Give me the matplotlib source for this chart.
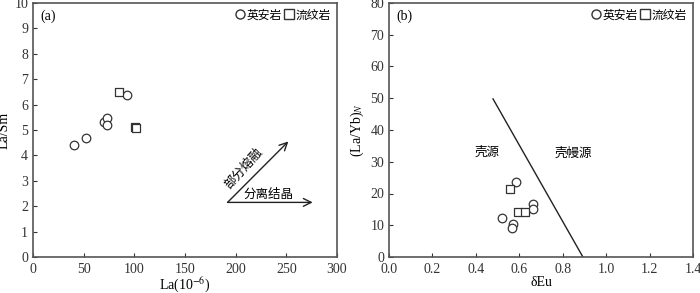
import matplotlib.pyplot as plt
from matplotlib.lines import Line2D

plt.rcParams['font.family'] = ['Liberation Serif', 'Noto Sans CJK SC']
plt.rcParams['mathtext.fontset'] = 'stix'
plt.rcParams['font.size'] = 10

# (a) La vs La/Sm
dac_la = [40.5, 52.3, 70.4, 73.3, 73.3, 92.5]
dac_lasm = [4.41, 4.67, 5.33, 5.46, 5.2, 6.37]
rhy_la = [84.9, 100.7, 101.2]
rhy_lasm = [6.48, 5.12, 5.08]

# (b) dEu vs (La/Yb)N
dac_eu = [0.583, 0.522, 0.573, 0.568, 0.662, 0.662]
dac_layb = [23.7, 12.4, 10.4, 9.1, 16.6, 15.0]
rhy_eu = [0.557, 0.596, 0.626]
rhy_layb = [21.4, 14.2, 14.2]
line_eu = [0.479, 0.893]
line_layb = [49.8, 0]

fig = plt.figure(figsize=(7, 2.93), dpi=100)
ax1 = fig.add_axes([33/700, 36/293, 304/700, 254/293])
ax2 = fig.add_axes([389/700, 36/293, 304/700, 254/293])

mk = dict(s=38, facecolors='white', edgecolors='#333333', linewidths=0.9, zorder=3)
ax1.scatter(dac_la, dac_lasm, marker='o', **mk)
ax1.scatter(rhy_la, rhy_lasm, marker='s', **mk)
ax2.scatter(dac_eu, dac_layb, marker='o', **mk)
ax2.scatter(rhy_eu, rhy_layb, marker='s', **mk)
ax2.plot(line_eu, line_layb, color='#222222', lw=1)

ax1.set_xlim(0, 300)
ax1.set_ylim(0, 10)
ax1.set_xticks(range(0, 301, 50))
ax1.set_yticks(range(0, 11))
ax1.set_xlabel('La(10$^{-6}$)', labelpad=0)
ax1.set_ylabel('La/Sm', labelpad=3)

ax2.set_xlim(0, 1.4)
ax2.set_ylim(0, 80)
ax2.set_xticks([0, 0.2, 0.4, 0.6, 0.8, 1.0, 1.2, 1.4])
ax2.set_xticklabels(['0.0', '0.2', '0.4', '0.6', '0.8', '1.0', '1.2', '1.4'])
ax2.set_yticks(range(0, 81, 10))
ax2.set_xlabel('δEu', labelpad=0)
ax2.set_ylabel('(La/Yb)$_N$', labelpad=3)

for ax in (ax1, ax2):
    ax.tick_params(direction='in', length=3, width=0.8, colors='#333333', labelcolor='#333333')
    ax.tick_params(axis='x', pad=4)
    for sp in ax.spines.values():
        sp.set_color('#555555')
        sp.set_linewidth(1.2)
    h = [Line2D([], [], marker='o', ls='', mfc='white', mec='#333333', ms=6.5, label='英安岩'),
         Line2D([], [], marker='s', ls='', mfc='white', mec='#333333', ms=6.5, label='流纹岩')]
    ax.legend(handles=h, loc='upper right', ncol=2, frameon=False, handletextpad=0.05,
              columnspacing=0.1, borderaxespad=0.15, handlelength=1.0, fontsize=8.5)

ax1.text(0.025, 0.975, '(a)', transform=ax1.transAxes, va='top', ha='left')
ax2.text(0.025, 0.975, '(b)', transform=ax2.transAxes, va='top', ha='left')

arw = dict(arrowstyle='->', color='#222222', lw=1, mutation_scale=14, shrinkA=0, shrinkB=0)
ax1.annotate('', xy=(252, 4.55), xytext=(192, 2.15), arrowprops=arw)
ax1.annotate('', xy=(276, 2.15), xytext=(192, 2.15), arrowprops=arw)
ax1.text(208, 3.5, '部分熔融', rotation=48, ha='center', va='center', fontsize=9)
ax1.text(232, 2.22, '分离结晶', ha='center', va='bottom', fontsize=9)

ax2.text(0.451, 33, '壳源', ha='center', va='center', fontsize=9)
ax2.text(0.847, 32.4, '壳幔源', ha='center', va='center', fontsize=9)

fig.savefig('out.png', dpi=100)
